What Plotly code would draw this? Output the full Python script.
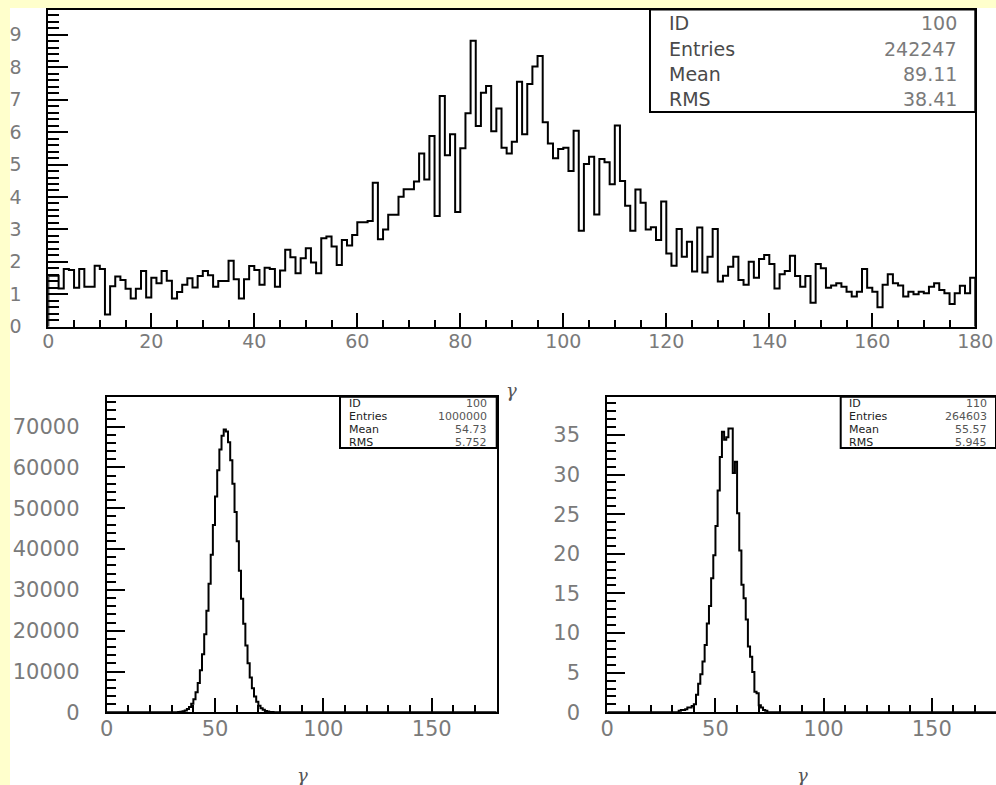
import plotly.graph_objects as go

W, H = 996, 785

# ---------------- data ----------------
gamma_edges = list(range(0, 181))          # 1-unit bins, 0..180

top_values = [
    1.57, 1.57, 1.18, 1.78, 1.75, 1.20, 1.78, 1.23, 1.23, 1.88, 1.78, 0.38,
    1.25, 1.55, 1.44, 1.17, 0.87, 1.17, 1.72, 0.90, 1.51, 1.34, 1.72, 1.42,
    0.87, 1.07, 1.29, 1.49, 1.21, 1.56, 1.72, 1.59, 1.23, 1.41, 1.41, 2.03,
    1.46, 0.87, 1.46, 1.87, 1.75, 1.29, 1.82, 1.78, 1.23, 1.73, 2.37, 2.14,
    1.65, 2.11, 2.42, 1.98, 1.65, 2.73, 2.78, 2.47, 1.90, 2.67, 2.50, 2.83,
    3.22, 3.22, 3.26, 4.44, 2.70, 3.00, 3.45, 3.45, 4.01, 4.24, 4.24, 4.48,
    5.34, 4.54, 5.88, 3.41, 7.11, 5.29, 5.93, 3.54, 5.50, 6.58, 8.82, 6.19,
    7.21, 7.42, 6.03, 6.73, 5.52, 5.34, 5.70, 7.55, 5.93, 7.48, 8.02, 8.35,
    6.30, 5.65, 5.19, 5.48, 5.52, 4.80, 6.04, 2.96, 5.02, 5.24, 3.46, 5.17,
    5.07, 4.39, 6.20, 4.49, 3.73, 2.96, 4.23, 3.82, 3.00, 3.07, 2.67, 3.86,
    2.26, 1.88, 3.01, 2.16, 2.62, 1.70, 3.06, 1.67, 2.16, 3.01, 1.39, 1.57,
    1.85, 2.16, 1.44, 1.29, 2.00, 1.51, 2.09, 2.21, 1.93, 1.18, 1.62, 1.72,
    2.19, 1.56, 1.23, 1.56, 0.74, 1.93, 1.80, 1.20, 1.27, 1.34, 1.23, 1.08,
    0.93, 1.08, 1.78, 1.20, 1.08, 0.60, 1.29, 1.62, 1.34, 1.27, 0.93, 1.08,
    1.00, 1.08, 1.03, 1.23, 1.34, 1.13, 1.03, 0.70, 1.03, 1.26, 1.03, 1.51,
]

left_first_bin = 33
left_counts = [
    70, 140, 260, 450, 780, 1300, 2100, 3200, 4900, 7200, 10300, 14200,
    19100, 24900, 31500, 38600, 45900, 52900, 59300, 64400, 67800, 69300,
    68800, 66200, 61800, 56000, 49100, 41900, 34700, 27800, 21700, 16400,
    12000, 8500, 5900, 3900, 2600, 1600, 1000, 600, 340, 190, 100, 50,
]

right_first_bin = 33
right_counts = [
    0.2, 0.3, 0.3, 0.4, 0.6, 0.6, 0.8, 1.0, 2.2, 3.6, 4.8, 6.4, 8.5, 11.2,
    13.4, 16.9, 19.8, 23.5, 28.0, 32.2, 35.4, 34.4, 34.7, 35.8, 35.8, 30.2,
    31.6, 25.1, 20.4, 16.1, 14.4, 11.7, 8.3, 7.0, 5.1, 2.6, 2.4, 0.9, 0.6,
    0.3, 0.2,
]

stat_names = ["ID", "Entries", "Mean", "RMS"]
top_stat_values = ["100", "242247", "89.11", "38.41"]
left_stat_values = ["100", "1000000", "54.73", "5.752"]
right_stat_values = ["110", "264603", "55.57", "5.945"]

top_xticks = [0, 20, 40, 60, 80, 100, 120, 140, 160, 180]
top_yticks = [0, 1, 2, 3, 4, 5, 6, 7, 8, 9]
bottom_xticks = [0, 50, 100, 150]
left_yticks = [0, 10000, 20000, 30000, 40000, 50000, 60000, 70000]
right_yticks = [0, 5, 10, 15, 20, 25, 30, 35]
axis_title = "γ"


# ---------------- helpers ----------------
def px(x):
    return x / W


def py(y):
    return 1 - y / H


def full_bins(first, counts):
    arr = [0] * (len(gamma_edges) - 1)
    for i, c in enumerate(counts):
        arr[first + i] = c
    return arr


def step_trace(values, xa, ya):
    xs = [gamma_edges[0]] + gamma_edges[:-1] + [gamma_edges[-1]]
    ys = [0] + list(values) + [0]
    return go.Scatter(x=xs, y=ys, mode="lines", line=dict(color="black", width=2, shape="hv"),
                      xaxis=xa, yaxis=ya, hoverinfo="skip", showlegend=False)


fig = go.Figure()
fig.add_trace(step_trace(top_values, "x", "y"))
fig.add_trace(step_trace(full_bins(left_first_bin, left_counts), "x2", "y2"))
fig.add_trace(step_trace(full_bins(right_first_bin, right_counts), "x3", "y3"))

TICKCOL = "#7a7a7a"


def xaxis(domain, rng, tickvals, major, minor, dmin, fsize, anchor):
    return dict(domain=domain, range=rng, anchor=anchor, showline=True, mirror=True,
                linecolor="black", linewidth=2, ticks="inside", ticklen=major, tickwidth=2,
                tickcolor="black", tickvals=tickvals, ticktext=[str(v) for v in tickvals],
                showgrid=False, zeroline=False, fixedrange=True, automargin=False,
                tickfont=dict(family="DejaVu Sans", size=fsize, color=TICKCOL),
                ticklabelstandoff=-4,
                minor=dict(ticks="inside", ticklen=minor, tickwidth=2, tickcolor="black",
                           dtick=dmin, tick0=0, showgrid=False))


def yaxis(domain, rng, tickvals, major, minor, dmin, fsize, anchor):
    return dict(domain=domain, range=rng, anchor=anchor, showline=True, mirror=True,
                linecolor="black", linewidth=2, ticks="inside", ticklen=major, tickwidth=2,
                tickcolor="black", tickvals=tickvals, ticktext=[str(v) for v in tickvals],
                showgrid=False, zeroline=False, fixedrange=True, automargin=False,
                tickfont=dict(family="DejaVu Sans", size=fsize, color=TICKCOL),
                ticklabelstandoff=21,
                minor=dict(ticks="inside", ticklen=minor, tickwidth=2, tickcolor="black",
                           dtick=dmin, tick0=0, showgrid=False))


top_x_dom = [px(48.3), px(975.3)]
top_y_dom = [py(326.7), py(9.5)]
bl_x_dom = [px(106.7), px(496.7)]
br_x_dom = [px(607.3), 1.0]
b_y_dom = [py(712.3), py(396.7)]

fig.update_layout(
    width=W, height=H, autosize=False,
    margin=dict(l=0, r=0, t=0, b=0, pad=0),
    paper_bgcolor="#ffffcc", plot_bgcolor="white",
    showlegend=False,
    xaxis=xaxis(top_x_dom, [0, 180], top_xticks, 14, 7, 5, 19, "y"),
    yaxis=yaxis(top_y_dom, [0, 9.78], top_yticks, 20, 11, 0.2, 19, "x"),
    xaxis2=xaxis(bl_x_dom, [0, 180], bottom_xticks, 14, 7, 10, 21, "y2"),
    yaxis2=yaxis(b_y_dom, [0, 77350], left_yticks, 18, 9, 2000, 21, "x2"),
    xaxis3=xaxis(br_x_dom, [0, 179.7], bottom_xticks, 14, 7, 10, 21, "y3"),
    yaxis3=yaxis(b_y_dom, [0, 39.82], right_yticks, 18, 9, 1, 21, "x3"),
)

shapes = [
    # white page area (yellow strips left and top)
    dict(type="rect", xref="paper", yref="paper", x0=px(10), x1=1.0, y0=0, y1=py(8),
         fillcolor="white", line=dict(width=0), layer="below"),
]


def stats_box(x0, x1, y0, y1, lab_x, val_x, ys, values, fsize, lab_col, val_col):
    shapes.append(dict(type="rect", xref="paper", yref="paper", x0=px(x0), x1=px(x1),
                       y0=py(y1), y1=py(y0), fillcolor="white",
                       line=dict(color="black", width=2), layer="above"))
    for name, val, yy in zip(stat_names, values, ys):
        fig.add_annotation(x=px(lab_x), y=py(yy), xref="paper", yref="paper", text=name,
                           showarrow=False, xanchor="left", yanchor="middle",
                           font=dict(family="DejaVu Sans", size=fsize, color=lab_col))
        fig.add_annotation(x=px(val_x), y=py(yy), xref="paper", yref="paper", text=val,
                           showarrow=False, xanchor="right", yanchor="middle",
                           font=dict(family="DejaVu Sans", size=fsize, color=val_col))


stats_box(650, 975.3, 9.5, 112, 667, 959, [23, 49, 74, 99], top_stat_values, 19, "#4a4a4a", "#7a7a7a")
stats_box(340, 496.7, 396.7, 448, 347, 489, [403, 416, 429, 442], left_stat_values, 11, "#222222", "#555555")
stats_box(840.7, 996, 396.7, 448, 847, 989, [403, 416, 429, 442], right_stat_values, 11, "#222222", "#555555")

for xx, yy in [(511.5, 390), (302, 775), (802, 775)]:
    fig.add_annotation(x=px(xx), y=py(yy), xref="paper", yref="paper",
                       text="<i>" + axis_title + "</i>", showarrow=False,
                       xanchor="center", yanchor="middle",
                       font=dict(family="DejaVu Serif", size=18, color="#555555"))

fig.update_layout(shapes=shapes)
fig.write_html(
    "out.html",
    config={"displayModeBar": False, "staticPlot": True},
    post_script="document.body.style.margin='0';document.body.style.padding='0';"
                "document.body.style.overflow='hidden';document.body.style.background='#ffffcc';",
)
